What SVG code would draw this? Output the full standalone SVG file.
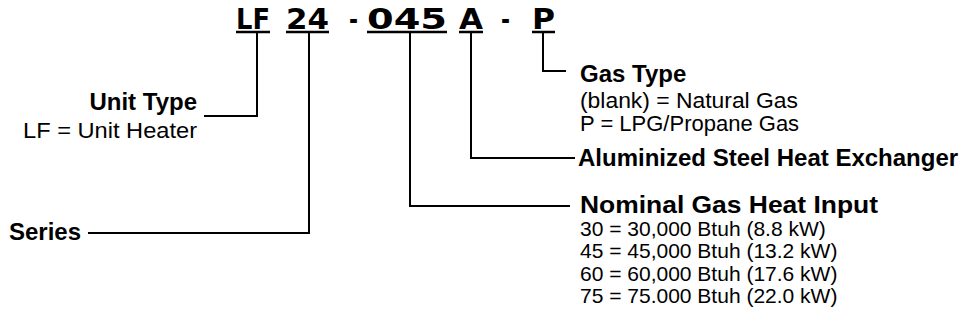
<svg xmlns="http://www.w3.org/2000/svg" width="968" height="324" viewBox="0 0 968 324">
<style>
.code{font-family:"DejaVu Sans",sans-serif;font-weight:bold;font-size:28px;fill:#000}
.b{font-family:"Liberation Sans",Arial,sans-serif;font-weight:bold;font-size:24px;fill:#000}
.r{font-family:"Liberation Sans",Arial,sans-serif;font-size:21px;fill:#000}
.ul{stroke:#000;stroke-width:2.5;fill:none}
.ln{stroke:#000;stroke-width:2;fill:none}
</style>
<rect width="968" height="324" fill="#fff"/>
<g id="model-code">
<text class="code" x="236" y="29" textLength="34" lengthAdjust="spacingAndGlyphs">LF</text>
<text class="code" x="286" y="29" textLength="43" lengthAdjust="spacingAndGlyphs">24</text>
<text class="code" x="349" y="29" textLength="9" lengthAdjust="spacingAndGlyphs">-</text>
<text class="code" x="367" y="29" textLength="80" lengthAdjust="spacingAndGlyphs">045</text>
<text class="code" x="459" y="29" textLength="24" lengthAdjust="spacingAndGlyphs">A</text>
<text class="code" x="501" y="29" textLength="9" lengthAdjust="spacingAndGlyphs">-</text>
<text class="code" x="532" y="29" textLength="23" lengthAdjust="spacingAndGlyphs">P</text>
<path class="ul" d="M236 32H270M286 32H329M367 32H447M459 32H483M532 32H555"/>
</g>
<g id="connectors">
<path class="ln" d="M257 33V116H204"/>
<path class="ln" d="M309 33V233H88"/>
<path class="ln" d="M410 33V206H570"/>
<path class="ln" d="M471 33V158H575"/>
<path class="ln" d="M543 33V71H566"/>
</g>
<g id="unit-type">
<text class="b" x="197" y="110" text-anchor="end">Unit Type</text>
<text class="r" x="197" y="138" text-anchor="end" textLength="174" lengthAdjust="spacingAndGlyphs" style="font-size:22px">LF = Unit Heater</text>
</g>
<g id="series">
<text class="b" x="9" y="240">Series</text>
</g>
<g id="gas-type">
<text class="b" x="580" y="82">Gas Type</text>
<text class="r" x="580" y="108" textLength="218" lengthAdjust="spacingAndGlyphs" style="font-size:22px">(blank) = Natural Gas</text>
<text class="r" x="580" y="131" style="font-size:22px">P = LPG/Propane Gas</text>
</g>
<g id="heat-exchanger">
<text class="b" x="578" y="166">Aluminized Steel Heat Exchanger</text>
</g>
<g id="heat-input">
<text class="b" x="580" y="213" textLength="298" lengthAdjust="spacingAndGlyphs">Nominal Gas Heat Input</text>
<text class="r" x="580" y="236">30 = 30,000 Btuh (8.8 kW)</text>
<text class="r" x="580" y="258">45 = 45,000 Btuh (13.2 kW)</text>
<text class="r" x="580" y="281">60 = 60,000 Btuh (17.6 kW)</text>
<text class="r" x="580" y="303">75 = 75.000 Btuh (22.0 kW)</text>
</g>
</svg>
